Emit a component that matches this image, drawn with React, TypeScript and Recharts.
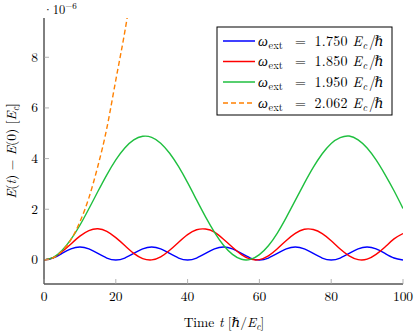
import React from 'react';
import { LineChart, Line, XAxis, YAxis } from 'recharts';

const times = [0, 2.5, 5, 7.5, 10, 12.5, 15, 17.5, 20, 22.5, 25, 27.5, 30, 32.5, 35, 37.5, 40, 42.5, 45, 47.5, 50, 52.5, 55, 57.5, 60, 62.5, 65, 67.5, 70, 72.5, 75, 77.5, 80, 82.5, 85, 87.5, 90, 92.5, 95, 97.5, 100];

const blueValues = [0, 0.075, 0.255, 0.435, 0.51, 0.435, 0.255, 0.075, 0, 0.075, 0.255, 0.435, 0.51, 0.435, 0.255, 0.075, 0, 0.075, 0.255, 0.435, 0.51, 0.435, 0.255, 0.075, 0, 0.075, 0.255, 0.435, 0.51, 0.435, 0.255, 0.075, 0, 0.075, 0.255, 0.435, 0.51, 0.435, 0.255, 0.075, 0];

const redValues = [0, 0.085, 0.32, 0.63, 0.94, 1.16, 1.23, 1.13, 0.88, 0.57, 0.26, 0.055, 0.003, 0.12, 0.38, 0.7, 1.0, 1.19, 1.22, 1.1, 0.82, 0.5, 0.21, 0.03, 0.014, 0.16, 0.44, 0.77, 1.05, 1.21, 1.2, 1.04, 0.76, 0.43, 0.16, 0.012, 0.03, 0.22, 0.51, 0.83, 1.04];

const greenValues = [0, 0.094, 0.37, 0.81, 1.37, 2.02, 2.7, 3.36, 3.95, 4.42, 4.74, 4.88, 4.84, 4.61, 4.21, 3.68, 3.05, 2.37, 1.7, 1.09, 0.58, 0.22, 0.026, 0.022, 0.21, 0.56, 1.06, 1.68, 2.35, 3.02, 3.65, 4.19, 4.6, 4.83, 4.89, 4.74, 4.42, 3.95, 3.37, 2.73, 2.03];

const orangeValues = [0, 0.08, 0.35, 0.8, 1.5, 2.45, 3.7, 5.2, 7.1, 9.0, 11.2];

const xTicks = [0, 20, 40, 60, 80, 100];
const yTicks = [0, 2, 4, 6, 8];
const omegaLabels = ['1.750', '1.850', '1.950', '2.062'];
const seriesKeys = ['blue', 'red', 'green', 'orange'];

const data = times.map((t, i) => ({
  t,
  blue: blueValues[i],
  red: redValues[i],
  green: greenValues[i],
  orange: i < orangeValues.length ? orangeValues[i] : null,
}));

const FONT = "'Latin Modern Roman', 'Liberation Serif', 'DejaVu Serif', serif";
const TICK_GRAY = '#a0a0a0';
const FRAME_GRAY = '#999999';
const colors: Record<string, string> = {
  blue: '#0000ff',
  red: '#ff0000',
  green: '#1fbf3f',
  orange: '#ff8000',
};

const BottomTick = (props: any) => {
  const { x, y, payload } = props;
  return (
    <g>
      <line x1={x} x2={x} y1={y} y2={y - 5} stroke={TICK_GRAY} strokeWidth={0.8} />
      <text x={x} y={y + 17} textAnchor="middle" fontFamily={FONT} fontSize={13.5} fill="#000">
        {payload.value}
      </text>
    </g>
  );
};

const TopTick = (props: any) => {
  const { x, y } = props;
  return <line x1={x} x2={x} y1={y} y2={y + 5} stroke={TICK_GRAY} strokeWidth={0.8} />;
};

const LeftTick = (props: any) => {
  const { x, y, payload } = props;
  return (
    <g>
      <line x1={x} x2={x + 5} y1={y} y2={y} stroke={TICK_GRAY} strokeWidth={0.8} />
      <text x={x - 6} y={y + 4.5} textAnchor="end" fontFamily={FONT} fontSize={13.5} fill="#000">
        {payload.value}
      </text>
    </g>
  );
};

const RightTick = (props: any) => {
  const { x, y } = props;
  return <line x1={x - 5} x2={x} y1={y} y2={y} stroke={TICK_GRAY} strokeWidth={0.8} />;
};

const LegendBox = () => {
  const rowY = [41, 61.5, 82, 103];
  return (
    <g>
      <rect x={217} y={27} width={175} height={88} fill="#fff" stroke="#000" strokeWidth={1} />
      {omegaLabels.map((lab, i) => {
        const by = rowY[i] + 4.5;
        return (
          <g key={lab}>
            <line
              x1={223}
              x2={255}
              y1={rowY[i]}
              y2={rowY[i]}
              stroke={colors[seriesKeys[i]]}
              strokeWidth={1.5}
              strokeDasharray={seriesKeys[i] === 'orange' ? '5 3' : undefined}
            />
            <text y={by} fontFamily={FONT} fontSize={14} fill="#000">
              <tspan x={258} fontStyle="italic">ω</tspan>
              <tspan x={268.5} y={by + 3} fontSize={10.5}>ext</tspan>
              <tspan x={295} y={by}>=</tspan>
              <tspan x={314.5} y={by} textLength={33}>{lab}</tspan>
              <tspan x={352.5} y={by} fontStyle="italic">E</tspan>
              <tspan x={362.5} y={by + 3} fontStyle="italic" fontSize={10}>c</tspan>
              <tspan x={369} y={by}>/</tspan>
              <tspan x={374.5} y={by} fontStyle="italic">ℏ</tspan>
            </text>
          </g>
        );
      })}
    </g>
  );
};

const Labels = () => (
  <g fontFamily={FONT} fill="#000">
    <text x={43} y={14} fontSize={12.5}>
      ·10<tspan fontSize={9} dy={-5}>−6</tspan>
    </text>
    <text x={224} y={327} fontSize={13.5} textAnchor="middle">
      Time <tspan fontStyle="italic">t</tspan> [ℏ/<tspan fontStyle="italic">E</tspan>
      <tspan fontStyle="italic" fontSize={9.5} dy={3}>c</tspan>
      <tspan dy={-3}>]</tspan>
    </text>
    <text transform="rotate(-90)" x={-151} y={16} fontSize={13.5} textAnchor="middle">
      <tspan fontStyle="italic">E</tspan>(<tspan fontStyle="italic">t</tspan>) − <tspan fontStyle="italic">E</tspan>(0) [<tspan fontStyle="italic">E</tspan>
      <tspan fontStyle="italic" fontSize={9.5} dy={3}>c</tspan>
      <tspan dy={-3}>]</tspan>
    </text>
  </g>
);

export default function App() {
  return (
    <div style={{ position: 'absolute', left: 0, top: 0, width: 415, height: 334, background: '#fff' }}>
      <LineChart width={415} height={334} data={data} margin={{ top: 18, right: 12, bottom: 0, left: 0 }}>
        <XAxis
          dataKey="t"
          type="number"
          domain={[0, 100]}
          ticks={xTicks}
          allowDataOverflow
          height={50}
          tickSize={0}
          tickMargin={0}
          tickLine={false}
          axisLine={{ stroke: '#000', strokeWidth: 1 }}
          tick={<BottomTick />}
          interval={0}
        />
        <XAxis
          xAxisId="top"
          orientation="top"
          dataKey="t"
          type="number"
          domain={[0, 100]}
          ticks={xTicks}
          allowDataOverflow
          height={0}
          tickSize={0}
          tickMargin={0}
          tickLine={false}
          axisLine={{ stroke: FRAME_GRAY, strokeWidth: 1 }}
          tick={<TopTick />}
          interval={0}
        />
        <YAxis
          type="number"
          domain={[-0.95, 9.55]}
          ticks={yTicks}
          allowDataOverflow
          width={44}
          tickSize={0}
          tickMargin={0}
          tickLine={false}
          axisLine={{ stroke: '#000', strokeWidth: 1 }}
          tick={<LeftTick />}
          interval={0}
        />
        <YAxis
          yAxisId="right"
          orientation="right"
          type="number"
          domain={[-0.95, 9.55]}
          ticks={yTicks}
          allowDataOverflow
          width={0}
          tickSize={0}
          tickMargin={0}
          tickLine={false}
          axisLine={{ stroke: FRAME_GRAY, strokeWidth: 1 }}
          tick={<RightTick />}
          interval={0}
        />
        <Line dataKey="blue" type="natural" stroke={colors.blue} strokeWidth={1.4} dot={false} isAnimationActive={false} />
        <Line dataKey="red" type="natural" stroke={colors.red} strokeWidth={1.4} dot={false} isAnimationActive={false} />
        <Line dataKey="green" type="natural" stroke={colors.green} strokeWidth={1.4} dot={false} isAnimationActive={false} />
        <Line
          dataKey="orange"
          type="natural"
          stroke={colors.orange}
          strokeWidth={1.4}
          strokeDasharray="5 3"
          dot={false}
          isAnimationActive={false}
        />
        <LegendBox />
        <Labels />
      </LineChart>
    </div>
  );
}
